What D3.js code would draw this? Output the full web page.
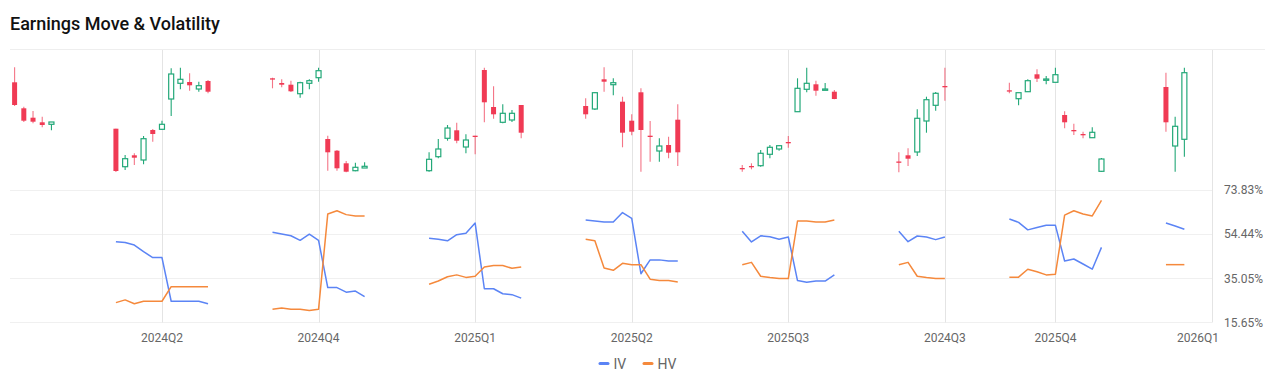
<!DOCTYPE html>
<html><head><meta charset="utf-8">
<script src="https://cdn.jsdelivr.net/npm/d3@7"></script>
<style>body{margin:0;background:#fff;} svg{display:block;font-family:Roboto,"Noto Sans",sans-serif;}</style>
</head><body><svg id="c" width="1275" height="378"></svg>
<script>
// ---------- data ----------
const quarters = ["", "2024Q2", "2024Q4", "2025Q1", "2025Q2", "2025Q3", "2024Q3", "2025Q4", "2026Q1"];
const firstOffset = [1, -5, -5, -5, -5, -5, -5, -5, -5];
const lastOffset  = [5,  5,  5,  5,  5,  5,  0,  5,  0];
const gapSlots = 6;

// candles per earnings window: [open, high, low, close]
const candles0 = [[197.7,212.7,174,175],[171.7,173.3,158,159.3],[162.3,169,156.7,158.3],[157.7,163.3,152.7,155],[155.7,158,149.7,158]];
const candles1 = [[151.3,151.3,108,109],[113.3,125,110,121.3],[124.7,126.7,115,122.3],[120,144,115.7,141.3],[150,151,138.3,146],[150.7,159.3,150,155.7],[181,211.7,164,206],[196.7,212.3,190.7,200.7],[198,206.7,189.3,194.7],[191,198.3,188.3,194.3],[199,200,186.7,188.3]];
const candles2 = [[201.7,202.3,191.7,200.7],[197,200.7,192.7,195.3],[195.3,199.3,188,188.7],[186.3,198.3,182.3,197.3],[196.7,200.7,190.7,199.3],[202.3,212.3,198.3,209.3],[141,144.3,109.3,127.7],[129.3,130,109.3,111.7],[116.7,119,107.7,108.3],[109.3,117.3,108.7,112.7],[112,117.7,112,113.7]];
const candles3 = [[109.3,127.7,108.3,120.7],[123.3,141,121.7,131],[141.7,155,139.3,152],[149.7,157.3,136.7,139.3],[133,145.7,126.7,140],[144.3,144.3,125.7,143.3],[210,212.3,157.7,177.7],[173,193.7,161.3,165.7],[157.7,175.7,156.7,166.7],[160,170,158,166.7],[175,175,141.7,147.3]];
const candles4 = [[174,181.7,161.3,165.7],[171,188,170,187.3],[200.7,212.7,188.3,198.3],[195.3,201.7,184.7,197.3],[178.3,183.3,132.7,147.3],[159.3,165.7,144.7,148.3],[187.7,191.7,108.3,150],[144.3,159,118.3,143.7],[129,141.7,118.3,134],[135,143.3,121.7,127.3],[160.3,175.7,114,127.7]];
const candles5 = [[112,115,108.3,111],[114,116.7,110.7,113],[114.3,130,113.3,126.7],[125.7,135,121.7,132.7],[131,135,129.3,134.3],[138,144,132.3,136.7],[168.3,201.7,168.3,191.7],[190.7,212.3,187.7,196.7],[195.7,199.3,184.3,189.3],[190.7,197,190,191],[188.3,190,180.7,181]];
const candles6 = [[118.5,127.7,107.7,117.5],[124.7,131.7,114,121.3],[128,170.7,124,161.7],[159,183.3,147.3,180.3],[174.7,188,169.3,186.7],[194,212.3,179.3,193.3]];
const candles7 = [[189.7,197.3,186.7,189.3],[181.3,187.3,174.7,187.3],[188.3,200.7,188,199.3],[205.7,210.7,198,201.3],[200.7,204,195.7,201],[197.7,212.3,197.7,205.3],[165,168.7,151.7,157.7],[150,156.3,145,149],[146,148.3,141.7,145],[142.3,152.7,142.3,147.7],[108.7,122,108,121]];
const candles8 = [[193,207.3,148.3,157.7],[134,163.3,108.3,153.7],[140.7,212.3,123.3,207.3]];
const candles = [candles0, candles1, candles2, candles3, candles4, candles5, candles6, candles7, candles8];

// implied / historical volatility (%) per window
const ivSeries = [
  [],
  [51.1,50.7,49.6,46.7,44.1,44.1,24.9,24.9,24.9,24.9,23.8],
  [55.2,54.5,53.7,51.7,54.4,51.7,30.9,30.9,28.9,29.4,26.9],
  [52.6,52.2,51.5,54.2,54.8,59.3,30.4,30.4,28.2,27.8,26.3],
  [60.6,60.2,59.8,59.8,63.9,61.4,37.0,43.1,43.1,42.6,42.6],
  [55.7,51.0,53.7,53.3,52.2,53.2,34.0,33.3,33.8,33.8,36.5],
  [55.7,51.1,53.6,53.2,52.0,53.2],
  [61.1,59.6,56.3,57.3,58.3,58.3,42.6,43.5,41.3,39.0,48.6],
  [59.3,58.0,56.6]
];
const hvSeries = [
  [],
  [24.3,25.5,23.8,24.9,24.9,24.9,31.3,31.3,31.3,31.3,31.3],
  [21.4,21.9,21.4,21.4,20.8,21.4,63.3,64.7,63.0,62.4,62.4],
  [32.4,33.8,35.7,36.5,35.4,35.9,40.0,40.6,40.6,39.4,40.0],
  [52.2,51.5,39.5,38.5,41.6,41.0,41.0,34.6,34.0,34.0,33.4],
  [41.0,42.0,35.9,35.3,34.9,34.9,60.2,60.2,59.8,59.8,60.6],
  [41.0,42.0,35.9,35.3,34.9,34.9],
  [35.5,35.5,39.0,37.9,36.5,36.8,62.8,64.7,63.3,62.4,69.3],
  [41.0,41.0,41.0]
];
const volTicks = [15.65, 35.05, 54.44, 73.83];
const seriesNames = ["IV", "HV"];

// ---------- styles ----------
const colIV = "#5b84f5", colHV = "#f5893c";
const colUp = "#22a878", colDown = "#f03a54";

const svg = d3.select("#c");
const plotLeft = 10, plotRight = 1212, headerRight = 1265;

// slots
const slots = [];
quarters.forEach((q, gi) => {
  for (let o = firstOffset[gi]; o <= lastOffset[gi]; o++) slots.push(gi + ":" + o);
  if (gi < quarters.length - 1) for (let k = 0; k < gapSlots; k++) slots.push(gi + ":g" + k);
});
const x = d3.scalePoint().domain(slots).range([14.6, plotRight]);
const yP = d3.scaleLinear().domain([100, 230]).range([180, 50]);
const yV = d3.scaleLinear().domain([15.65, 73.83]).range([322.3, 190]);

// title
svg.append("text").attr("x", 10).attr("y", 29.5).text("Earnings Move & Volatility")
  .attr("font-size", 18).attr("font-weight", 500).attr("fill", "#111");
svg.append("line").attr("x1", plotLeft).attr("x2", headerRight).attr("y1", 49.5).attr("y2", 49.5)
  .attr("stroke", "#eeeeee");

// horizontal grid (vol panel)
svg.append("g").selectAll("line").data(volTicks).join("line")
  .attr("x1", plotLeft).attr("x2", plotRight)
  .attr("y1", d => Math.round(yV(d)) + 0.5).attr("y2", d => Math.round(yV(d)) + 0.5)
  .attr("stroke", "#f0f0f0");
svg.append("g").selectAll("text").data(volTicks).join("text")
  .attr("x", 1224).attr("y", d => yV(d)).attr("dy", "0.36em")
  .attr("font-size", 12).attr("fill", "#666").text(d => d3.format(".2f")(d) + "%");

// vertical grid at earnings dates + labels
const qIdx = quarters.map((q, i) => i).filter(i => quarters[i] !== "");
svg.append("g").selectAll("line").data(qIdx).join("line")
  .attr("x1", i => Math.round(x(i + ":0")) + 0.5).attr("x2", i => Math.round(x(i + ":0")) + 0.5)
  .attr("y1", 50).attr("y2", 322.5).attr("stroke", "#e4e4e4");
svg.append("g").selectAll("text").data(qIdx).join("text")
  .attr("x", i => Math.min(x(i + ":0"), 1198)).attr("y", 342)
  .attr("text-anchor", "middle").attr("font-size", 12).attr("fill", "#666")
  .text(i => quarters[i]);

// candles
const bw = 5;
const cg = svg.append("g");
candles.forEach((arr, gi) => {
  arr.forEach((c, i) => {
    const [o, h, l, cl] = c;
    const key = gi + ":" + (firstOffset[gi] + i);
    const cx = x(key);
    const up = cl >= o;
    const col = up ? colUp : colDown;
    cg.append("line").attr("x1", cx).attr("x2", cx).attr("y1", yP(h)).attr("y2", yP(l))
      .attr("stroke", col).attr("stroke-width", 1.1).attr("stroke-opacity", up ? 1 : 0.7);
    const top = yP(Math.max(o, cl)), bot = yP(Math.min(o, cl));
    const hgt = Math.max(1.3, bot - top);
    cg.append("rect").attr("x", cx - bw / 2).attr("width", bw)
      .attr("y", top).attr("height", hgt)
      .attr("fill", up ? "#fff" : colDown)
      .attr("stroke", up ? colUp : "none").attr("stroke-width", 1.2);
  });
});

// vol lines
const line = d3.line().x(d => d[0]).y(d => yV(d[1]));
[[ivSeries, colIV], [hvSeries, colHV]].forEach(([ser, col]) => {
  ser.forEach((vals, gi) => {
    if (!vals.length) return;
    const pts = vals.map((v, i) => [x(gi + ":" + (firstOffset[gi] + i)), v]);
    svg.append("path").attr("d", line(pts)).attr("fill", "none")
      .attr("stroke", col).attr("stroke-width", 1.5).attr("stroke-linejoin", "round");
  });
});

// legend
const lg = svg.append("g");
const legendX = [600, 644];
seriesNames.forEach((n, i) => {
  lg.append("line").attr("x1", legendX[i]).attr("x2", legendX[i] + 8).attr("y1", 363.5).attr("y2", 363.5)
    .attr("stroke", i === 0 ? colIV : colHV).attr("stroke-width", 3).attr("stroke-linecap", "round");
  lg.append("text").attr("x", legendX[i] + 13.5).attr("y", 368.5).attr("font-size", 14)
    .attr("fill", "#666").text(n);
});
</script></body></html>
